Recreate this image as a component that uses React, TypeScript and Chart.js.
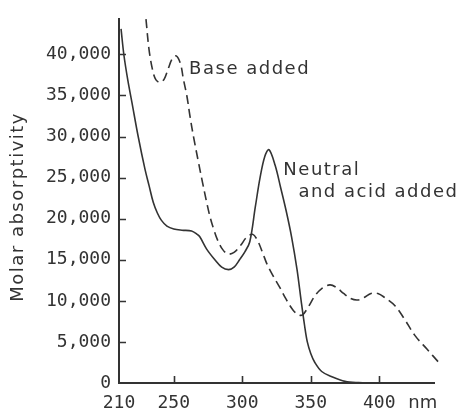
import React, { useEffect, useRef } from "react";
import { Chart, registerables } from "chart.js";

Chart.register(...registerables);

// ---- data ----
const xTickValues = [210, 250, 300, 350, 400];
const yTickValues = [0, 5000, 10000, 15000, 20000, 25000, 30000, 35000, 40000];

// Neutral and acid added (solid)
const neutralNm = [211.5, 213.6, 216.5, 219.5, 223.9, 229, 232, 235, 238, 241, 245, 250, 256, 263, 267, 269, 274, 280, 285, 290, 294, 298, 302, 305.5, 309.5, 313, 316.5, 319.5, 324, 328, 332, 336, 340, 343, 345.5, 347.5, 350, 353, 358, 365, 375, 385, 400, 440];
const neutralVal = [43100, 39900, 36800, 34100, 30100, 26000, 24000, 22000, 20700, 19800, 19100, 18750, 18600, 18500, 18100, 17800, 16300, 15000, 14100, 13800, 14100, 15000, 16000, 17200, 21400, 25000, 27600, 28400, 26500, 23800, 21000, 17800, 13800, 10000, 7000, 5000, 3600, 2500, 1400, 800, 200, 50, 0, 0];

// Base added (dashed)
const baseNm = [229.7, 232, 234.8, 237, 240, 243, 246, 249, 252, 255, 257, 259.5, 262, 264.5, 268, 271, 274, 276.5, 279, 282, 285.5, 289.5, 294, 299, 303, 307.5, 311, 315, 318, 322, 327.5, 332, 337, 341, 344, 348, 353, 358, 364, 369, 374, 379, 384, 389, 394, 399, 404, 411.5, 418, 426, 435, 443.5];
const baseVal = [44300, 40500, 37900, 36900, 36600, 37000, 38300, 39500, 39800, 38800, 37000, 35000, 32300, 29900, 26900, 24400, 22000, 20200, 18800, 17400, 16300, 15700, 15900, 16800, 17700, 18100, 17400, 15800, 14500, 13200, 11600, 10200, 8900, 8300, 8300, 9200, 10600, 11500, 11950, 11600, 10900, 10300, 10100, 10400, 10900, 10900, 10400, 9400, 7900, 5800, 4100, 2500];

const yTitle = "Molar absorptivity";
const unitLabel = "nm";
const baseLabel = "Base added";
const neutralLabel1 = "Neutral";
const neutralLabel2 = "and acid added";

const INK = "#333333";

function fmt(v: number): string {
  return v.toLocaleString("en-US");
}

const decorPlugin = {
  id: "decor",
  afterDraw(chart: any) {
    const { ctx, chartArea, scales } = chart;
    const x = scales.x;
    const y = scales.y;
    ctx.save();
    // inner tick marks
    ctx.strokeStyle = INK;
    ctx.lineWidth = 1.6;
    ctx.beginPath();
    for (const v of yTickValues) {
      if (v === 0) continue;
      const py = Math.round(y.getPixelForValue(v)) + 0.5;
      ctx.moveTo(chartArea.left, py);
      ctx.lineTo(chartArea.left + 7, py);
    }
    for (const v of xTickValues) {
      if (v === 210) continue;
      const px = Math.round(x.getPixelForValue(v)) + 0.5;
      ctx.moveTo(px, chartArea.bottom);
      ctx.lineTo(px, chartArea.bottom - 7);
    }
    ctx.stroke();

    // text annotations
    ctx.fillStyle = INK;
    ctx.font = "18px 'DejaVu Sans'";
    (ctx as any).letterSpacing = "1.5px";
    ctx.textAlign = "left";
    ctx.textBaseline = "alphabetic";
    ctx.fillText(baseLabel, x.getPixelForValue(261.2), y.getPixelForValue(37590));
    ctx.fillText(neutralLabel1, x.getPixelForValue(330), y.getPixelForValue(25300));
    ctx.fillText(neutralLabel2, x.getPixelForValue(341), y.getPixelForValue(22650));

    // unit after 400
    (ctx as any).letterSpacing = "0px";
    ctx.fillText(unitLabel, x.getPixelForValue(400) + 29, chartArea.bottom + 25);

    // y-axis title
    (ctx as any).letterSpacing = "1.5px";
    ctx.translate(chartArea.left - 101, (chartArea.top + chartArea.bottom) / 2 + 6);
    ctx.rotate(-Math.PI / 2);
    ctx.textAlign = "center";
    ctx.textBaseline = "middle";
    ctx.fillText(yTitle, 0, 0);
    ctx.restore();
  },
};

export default function App() {
  const canvasRef = useRef<HTMLCanvasElement | null>(null);

  useEffect(() => {
    document.body.style.margin = "0";
    const canvas = canvasRef.current;
    if (!canvas) return;
    const chart = new Chart(canvas, {
      type: "line",
      data: {
        datasets: [
          {
            label: "Neutral and acid added",
            data: neutralNm.map((n, i) => ({ x: n, y: neutralVal[i] })),
            borderColor: INK,
            borderWidth: 1.6,
            pointRadius: 0,
            tension: 0.35,
            fill: false,
          },
          {
            label: "Base added",
            data: baseNm.map((n, i) => ({ x: n, y: baseVal[i] })),
            borderColor: INK,
            borderWidth: 1.6,
            borderDash: [9, 5],
            pointRadius: 0,
            tension: 0.35,
            fill: false,
            clip: false as any,
          },
        ],
      },
      options: {
        animation: false,
        responsive: false,
        devicePixelRatio: 1,
        layout: { padding: { top: 15, right: 30, left: 0, bottom: 0 } },
        plugins: {
          legend: { display: false },
          tooltip: { enabled: false },
        },
        scales: {
          x: {
            type: "linear",
            min: 210,
            max: 440,
            grid: { display: false, drawTicks: false },
            border: { display: true, color: INK, width: 2 },
            afterBuildTicks: (scale: any) => {
              scale.ticks = xTickValues.map((v) => ({ value: v }));
            },
            afterFit: (scale: any) => {
              scale.height = 26;
            },
            ticks: {
              autoSkip: false,
              maxRotation: 0,
              padding: 10,
              color: INK,
              font: { family: "'DejaVu Sans Mono'", size: 18 },
              callback: (v: any) => String(v),
            },
          },
          y: {
            type: "linear",
            min: 0,
            max: 44337,
            grid: { display: false, drawTicks: false },
            border: { display: true, color: INK, width: 2 },
            afterBuildTicks: (scale: any) => {
              scale.ticks = yTickValues.map((v) => ({ value: v }));
            },
            afterFit: (scale: any) => {
              scale.width = 119;
            },
            ticks: {
              autoSkip: false,
              padding: 8,
              color: INK,
              font: { family: "'DejaVu Sans Mono'", size: 18 },
              callback: (v: any) => fmt(Number(v)),
            },
          },
        },
      },
      plugins: [decorPlugin],
    } as any);
    return () => chart.destroy();
  }, []);

  return (
    <div style={{ width: 464, height: 409 }}>
      <canvas ref={canvasRef} width={464} height={409} />
    </div>
  );
}
